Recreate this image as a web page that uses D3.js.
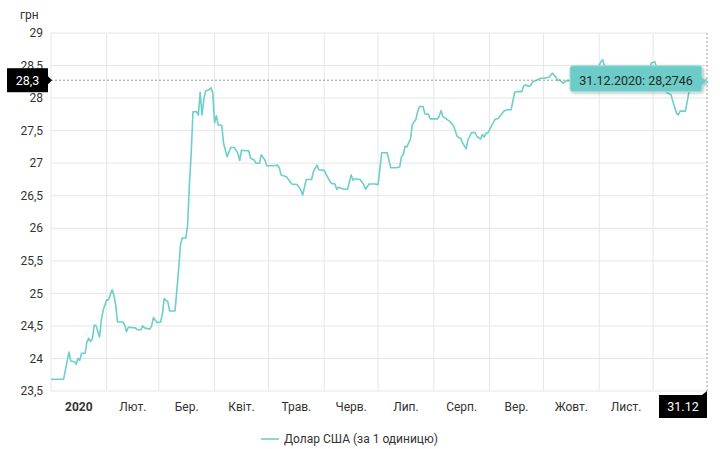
<!DOCTYPE html>
<html>
<head>
<meta charset="utf-8">
<script src="https://cdn.jsdelivr.net/npm/d3@7"></script>
<style>
    body { margin: 0; background: #fff; font-family: Roboto, "Open Sans", sans-serif; }
    .grid line { stroke: #e6e6e6; stroke-width: 1; }
    .tickLabel { fill: #333; font-size: 12px; }
    .cross { stroke: #9a9a9a; stroke-width: 1; stroke-dasharray: 2,2; }
    .rateLine { fill: none; stroke: #6dcfcb; stroke-width: 1.6; stroke-linejoin: round; }
    .blackLabel { fill: #000; }
    .blackText { fill: #fff; font-size: 12.5px; }
</style>
</head>
<body>
<script>
//exchange rate chart, USD / UAH through 2020
(function(){

    //dates of the points
    var dates = [
        "2020-01-01","2020-01-08","2020-01-11","2020-01-12","2020-01-14","2020-01-15","2020-01-16","2020-01-17",
        "2020-01-18","2020-01-20","2020-01-21","2020-01-22","2020-01-23","2020-01-24","2020-01-25","2020-01-26",
        "2020-01-28","2020-01-29","2020-01-30","2020-02-01","2020-02-02","2020-02-04","2020-02-05","2020-02-06",
        "2020-02-07","2020-02-10","2020-02-11","2020-02-12","2020-02-13","2020-02-17","2020-02-18","2020-02-20",
        "2020-02-21","2020-02-22","2020-02-25","2020-02-26","2020-02-27","2020-02-29","2020-03-02","2020-03-03",
        "2020-03-04","2020-03-06","2020-03-07","2020-03-10","2020-03-12","2020-03-13","2020-03-14","2020-03-16",
        "2020-03-17","2020-03-18","2020-03-19","2020-03-20","2020-03-22","2020-03-23","2020-03-24","2020-03-25",
        "2020-03-26","2020-03-27","2020-03-29","2020-03-30","2020-03-31","2020-04-01","2020-04-02","2020-04-03",
        "2020-04-05","2020-04-06","2020-04-08","2020-04-10","2020-04-12","2020-04-14","2020-04-15","2020-04-16",
        "2020-04-18","2020-04-20","2020-04-21","2020-04-23","2020-04-24","2020-04-26","2020-04-27","2020-04-29",
        "2020-04-30","2020-05-04","2020-05-06","2020-05-07","2020-05-08","2020-05-11","2020-05-14","2020-05-17",
        "2020-05-19","2020-05-20","2020-05-22","2020-05-25","2020-05-26","2020-05-28","2020-05-29","2020-06-01",
        "2020-06-03","2020-06-05","2020-06-07","2020-06-08","2020-06-09","2020-06-12","2020-06-14","2020-06-16",
        "2020-06-17","2020-06-18","2020-06-21","2020-06-23","2020-06-24","2020-06-26","2020-06-29","2020-07-01",
        "2020-07-03","2020-07-06","2020-07-07","2020-07-08","2020-07-11","2020-07-13","2020-07-14","2020-07-15",
        "2020-07-16","2020-07-17","2020-07-19","2020-07-20","2020-07-22","2020-07-23","2020-07-24","2020-07-26",
        "2020-07-27","2020-07-29","2020-07-30","2020-08-03","2020-08-04","2020-08-05","2020-08-06","2020-08-08",
        "2020-08-10","2020-08-12","2020-08-14","2020-08-16","2020-08-17","2020-08-19","2020-08-20","2020-08-22",
        "2020-08-24","2020-08-25","2020-08-27","2020-08-28","2020-08-29","2020-08-30","2020-08-31","2020-09-02",
        "2020-09-04","2020-09-06","2020-09-09","2020-09-11","2020-09-13","2020-09-15","2020-09-16","2020-09-19",
        "2020-09-20","2020-09-21","2020-09-23","2020-09-24","2020-09-25","2020-09-27","2020-09-29","2020-10-02",
        "2020-10-04","2020-10-06","2020-10-08","2020-10-09","2020-10-10","2020-10-12","2020-10-14","2020-10-17",
        "2020-10-21","2020-10-25","2020-10-29","2020-10-31","2020-11-02","2020-11-03","2020-11-04","2020-11-06",
        "2020-11-09","2020-11-12","2020-11-16","2020-11-20","2020-11-24","2020-11-27","2020-11-29","2020-11-30",
        "2020-12-02","2020-12-03","2020-12-05","2020-12-07","2020-12-09","2020-12-11","2020-12-12","2020-12-14",
        "2020-12-15","2020-12-16","2020-12-19","2020-12-20","2020-12-21","2020-12-23","2020-12-25","2020-12-27",
        "2020-12-29","2020-12-31"
    ];

    //hryvnia per dollar, one value per date
    var rates = [
        23.68,23.68,24.10,23.96,23.95,23.91,24.00,23.97,
        24.08,24.08,24.26,24.31,24.26,24.30,24.51,24.51,
        24.33,24.59,24.74,24.90,24.90,25.06,24.97,24.82,
        24.56,24.56,24.51,24.41,24.48,24.47,24.44,24.44,
        24.50,24.47,24.45,24.50,24.63,24.55,24.56,24.69,
        24.92,24.87,24.73,24.73,25.36,25.74,25.85,25.85,
        26.05,26.67,27.15,27.79,27.79,27.74,28.09,27.74,
        27.97,28.11,28.13,28.16,28.08,27.62,27.73,27.59,
        27.58,27.31,27.10,27.24,27.24,27.15,27.04,27.20,
        27.19,27.19,27.08,27.05,27.00,27.00,27.13,27.05,
        26.96,26.96,26.97,26.93,26.82,26.79,26.68,26.67,
        26.59,26.51,26.75,26.75,26.87,26.97,26.90,26.89,
        26.78,26.69,26.68,26.60,26.63,26.60,26.60,26.82,
        26.74,26.76,26.75,26.67,26.60,26.68,26.68,26.67,
        27.16,27.16,27.05,26.93,26.93,26.94,27.10,27.13,
        27.26,27.25,27.37,27.59,27.67,27.79,27.87,27.87,
        27.76,27.75,27.68,27.68,27.72,27.81,27.72,27.68,
        27.64,27.57,27.41,27.38,27.31,27.22,27.36,27.47,
        27.47,27.41,27.37,27.44,27.40,27.46,27.46,27.57,
        27.67,27.69,27.80,27.82,27.82,28.09,28.10,28.10,
        28.19,28.20,28.18,28.20,28.25,28.27,28.30,28.31,
        28.32,28.38,28.32,28.27,28.28,28.23,28.27,28.26,
        28.30,28.27,28.36,28.45,28.56,28.59,28.48,28.35,
        28.25,28.20,28.25,28.30,28.30,28.36,28.44,28.54,
        28.56,28.44,28.28,28.15,28.08,28.05,27.95,27.77,
        27.74,27.80,27.80,27.95,28.10,28.20,28.26,28.30,
        28.28,28.2746
    ];

    //axis labels (December's label sits under the date flag, so it is not drawn)
    var yTicks = [23.5, 24, 24.5, 25, 25.5, 26, 26.5, 27, 27.5, 28, 28.5, 29];
    var monthLabels = ["2020", "Лют.", "Бер.", "Квіт.", "Трав.", "Черв.", "Лип.", "Серп.", "Вер.", "Жовт.", "Лист."];
    var unitLabel = "грн";
    var seriesName = "Долар США (за 1 одиницю)";

    //frame dimensions
    var svgWidth = 720,
        svgHeight = 449,
        margin = {top: 33, right: 13, bottom: 58, left: 51},
        width = svgWidth - margin.left - margin.right,
        height = svgHeight - margin.top - margin.bottom;

    var parseDate = d3.timeParse("%Y-%m-%d");
    var data = dates.map(function(d, i){
        return {date: parseDate(d), rate: rates[i]};
    });
    var last = data[data.length - 1];

    var svg = d3.select("body")
        .append("svg")
        .attr("width", svgWidth)
        .attr("height", svgHeight);

    //soft shadow for the tooltip
    var filter = svg.append("defs").append("filter")
        .attr("id", "shadow")
        .attr("x", "-10%").attr("y", "-30%")
        .attr("width", "130%").attr("height", "170%");
    filter.append("feDropShadow")
        .attr("dx", 1).attr("dy", 1)
        .attr("stdDeviation", 1.5)
        .attr("flood-opacity", 0.3);

    var chart = svg.append("g")
        .attr("transform", "translate(" + margin.left + "," + margin.top + ")");

    //scales
    var x = d3.scaleTime()
        .domain([data[0].date, last.date])
        .range([0, width]);

    var y = d3.scaleLinear()
        .domain([yTicks[0], yTicks[yTicks.length - 1]])
        .range([height, 0]);

    var months = d3.timeMonth.range(data[0].date, last.date);

    //horizontal grid
    chart.append("g")
        .attr("class", "grid")
        .selectAll("line")
        .data(yTicks)
        .enter()
        .append("line")
        .attr("x1", 0)
        .attr("x2", width)
        .attr("y1", function(d){ return y(d); })
        .attr("y2", function(d){ return y(d); });

    //vertical grid at month starts
    chart.append("g")
        .attr("class", "grid")
        .selectAll("line")
        .data(months)
        .enter()
        .append("line")
        .attr("x1", function(d){ return x(d); })
        .attr("x2", function(d){ return x(d); })
        .attr("y1", 0)
        .attr("y2", height);

    //y tick labels
    chart.append("g")
        .selectAll("text")
        .data(yTicks)
        .enter()
        .append("text")
        .attr("class", "tickLabel")
        .attr("x", -8)
        .attr("y", function(d){ return y(d); })
        .attr("dy", "0.35em")
        .attr("text-anchor", "end")
        .text(function(d){ return String(d).replace(".", ","); });

    //unit above the axis
    svg.append("text")
        .attr("class", "tickLabel")
        .attr("x", 20)
        .attr("y", 19)
        .text(unitLabel);

    //month labels sit in the middle of each month
    chart.append("g")
        .selectAll("text")
        .data(months.slice(0, monthLabels.length))
        .enter()
        .append("text")
        .attr("class", "tickLabel")
        .attr("x", function(d){
            return (x(d) + x(d3.timeMonth.offset(d, 1))) / 2;
        })
        .attr("y", height + 20)
        .attr("text-anchor", "middle")
        .style("font-weight", function(d, i){ return i == 0 ? "bold" : "normal"; })
        .text(function(d, i){ return monthLabels[i]; });

    //the rate line
    var line = d3.line()
        .x(function(d){ return x(d.date); })
        .y(function(d){ return y(d.rate); });

    chart.append("path")
        .datum(data)
        .attr("class", "rateLine")
        .attr("d", line);

    //crosshair on the last point
    var px = x(last.date),
        py = y(last.rate);

    chart.append("line")
        .attr("class", "cross")
        .attr("x1", 0).attr("x2", px)
        .attr("y1", py).attr("y2", py);

    chart.append("line")
        .attr("class", "cross")
        .attr("x1", px).attr("x2", px)
        .attr("y1", 0).attr("y2", height);

    //value flag on the y axis
    var yFlag = chart.append("g")
        .attr("transform", "translate(0," + py + ")");
    yFlag.append("rect")
        .attr("class", "blackLabel")
        .attr("x", -44).attr("y", -12)
        .attr("width", 41).attr("height", 24);
    yFlag.append("path")
        .attr("class", "blackLabel")
        .attr("d", "M-3,-4L1,0L-3,4Z");
    yFlag.append("text")
        .attr("class", "blackText")
        .attr("x", -23.5)
        .attr("dy", "0.36em")
        .attr("text-anchor", "middle")
        .text(d3.format(".1f")(last.rate).replace(".", ","));

    //date flag on the x axis
    var xFlag = chart.append("g")
        .attr("transform", "translate(" + px + "," + height + ")");
    xFlag.append("rect")
        .attr("class", "blackLabel")
        .attr("x", -48).attr("y", 4)
        .attr("width", 48).attr("height", 23);
    xFlag.append("path")
        .attr("class", "blackLabel")
        .attr("d", "M-5,4L0,0L0,4Z");
    xFlag.append("text")
        .attr("class", "blackText")
        .attr("x", -24)
        .attr("y", 15.5)
        .attr("dy", "0.36em")
        .attr("text-anchor", "middle")
        .text(d3.timeFormat("%d.%m")(last.date));

    //tooltip left of the last point
    var tip = chart.append("g")
        .attr("transform", "translate(" + px + "," + py + ")");
    tip.append("path")
        .attr("d", "M-137,-11.5a3,3 0 0 1 3,-3H-8a3,3 0 0 1 3,3V-3L0,1L-5,5V8.5a3,3 0 0 1 -3,3H-134a3,3 0 0 1 -3,-3Z")
        .attr("fill", "#6dccc7")
        .attr("stroke", "#9ee0dc")
        .attr("stroke-width", 1)
        .attr("filter", "url(#shadow)");
    tip.append("text")
        .attr("x", -71)
        .attr("dy", "0.35em")
        .attr("text-anchor", "middle")
        .style("font-size", "12.5px")
        .style("fill", "#1e2a2a")
        .text(d3.timeFormat("%d.%m.%Y")(last.date) + ": " + String(last.rate).replace(".", ","));

    //legend
    var legend = svg.append("g")
        .attr("transform", "translate(261,439)");
    legend.append("line")
        .attr("x1", 0).attr("x2", 18)
        .attr("stroke", "#6dcfcb")
        .attr("stroke-width", 1.6);
    legend.append("text")
        .attr("class", "tickLabel")
        .attr("x", 23)
        .attr("dy", "0.35em")
        .text(seriesName);

})();
</script>
</body>
</html>
